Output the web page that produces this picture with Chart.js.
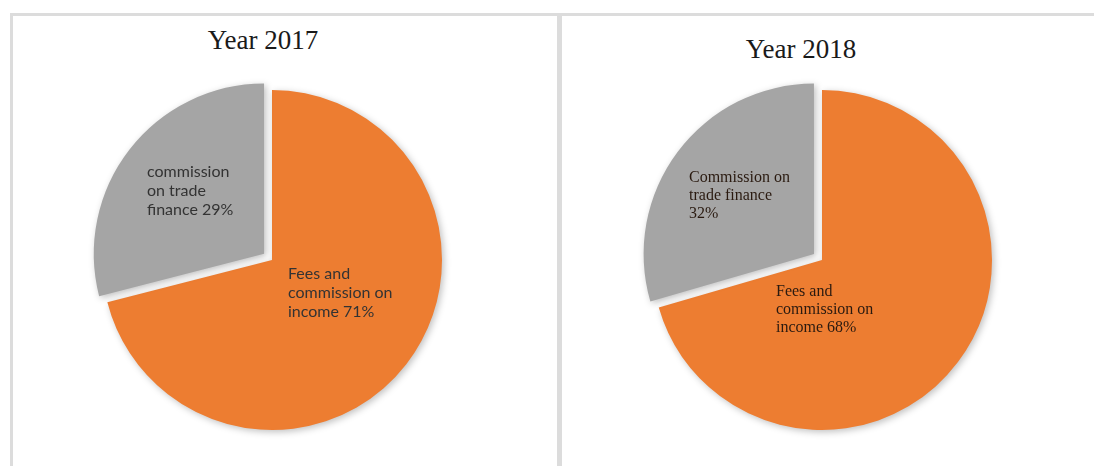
<!DOCTYPE html>
<html>
<head>
<meta charset="utf-8">
<script src="https://cdn.jsdelivr.net/npm/chart.js@4.4.1/dist/chart.umd.min.js"></script>
<style>
  html, body { margin: 0; padding: 0; background: #ffffff; }
  body { width: 1094px; height: 466px; position: relative; overflow: hidden; }
  .border-top { position: absolute; left: 10px; top: 13px; width: 1084px; height: 3px; background: #dcdcdc; }
  .border-left { position: absolute; left: 10px; top: 13px; width: 3px; height: 453px; background: #dcdcdc; }
  .divider { position: absolute; left: 557px; top: 13px; width: 5px; height: 453px; background: #dcdcdc; }
  .title { position: absolute; font-family: "Liberation Serif", "DejaVu Serif", serif; font-size: 27px; line-height: 27px; color: #1a1a1a; white-space: nowrap; transform: translateX(-50%); }
  .wrap { position: absolute; top: 16px; height: 450px; }
</style>
</head>
<body>
<div class="border-top"></div>
<div class="border-left"></div>
<div class="divider"></div>
<div class="title" id="t1" style="left:263px; top:27px;"></div>
<div class="title" id="t2" style="left:801px; top:36px;"></div>
<div class="wrap" style="left:13px; width:544px;"><canvas id="c1" width="544" height="450"></canvas></div>
<div class="wrap" style="left:562px; width:532px;"><canvas id="c2" width="532" height="450"></canvas></div>
<script>
// ---- data ----
const title2017 = "Year 2017";
const title2018 = "Year 2018";
const categories2017 = ["Fees and commission on income", "commission on trade finance"];
const values2017 = [71, 29];
const labelLines2017 = [["Fees and", "commission on", "income 71%"], ["commission", "on trade", "finance 29%"]];
const categories2018 = ["Fees and commission on income", "Commission on trade finance"];
// slice sizes as drawn in the picture (the printed labels read 68% / 32%)
const values2018 = [70.5, 29.5];
const labelLines2018 = [["Fees and", "commission on", "income 68%"], ["Commission on", "trade finance", "32%"]];
const sliceColors = ["#ED7D31", "#A5A5A5"];

document.getElementById('t1').textContent = title2017;
document.getElementById('t2').textContent = title2018;

const shadowPlugin = {
  id: 'pieShadow',
  beforeDatasetDraw(chart) {
    const ctx = chart.ctx;
    ctx.save();
    ctx.shadowColor = 'rgba(0,0,0,0.25)';
    ctx.shadowBlur = 7;
    ctx.shadowOffsetX = 2;
    ctx.shadowOffsetY = 2;
  },
  afterDatasetDraw(chart) {
    chart.ctx.restore();
  }
};

const labelPlugin = {
  id: 'sliceLabels',
  afterDatasetsDraw(chart, args, opts) {
    const ctx = chart.ctx;
    const arc = chart.getDatasetMeta(0).data[0];
    const cx = arc.x, cy = arc.y;
    ctx.save();
    ctx.font = opts.font;
    ctx.fillStyle = opts.color;
    ctx.textAlign = 'left';
    ctx.textBaseline = 'middle';
    opts.lines.forEach((lines, i) => {
      const pos = opts.positions[i];
      lines.forEach((line, j) => {
        ctx.fillText(line, cx + pos[0], cy + pos[1] + j * opts.lineHeight);
      });
    });
    ctx.restore();
  }
};

function makePie(id, labels, values, lines, padRight, labelOpts) {
  return new Chart(document.getElementById(id), {
    type: 'pie',
    data: {
      labels: labels,
      datasets: [{
        data: values,
        backgroundColor: sliceColors,
        borderWidth: 0,
        offset: [0, 40],
        hoverOffset: 0
      }]
    },
    options: {
      responsive: false,
      animation: false,
      radius: 170,
      rotation: 0,
      layout: { padding: { left: 0, right: padRight, top: 40, bottom: 2 } },
      events: [],
      plugins: {
        legend: { display: false },
        title: { display: false },
        tooltip: { enabled: false },
        sliceLabels: Object.assign({ lines: lines }, labelOpts)
      }
    },
    plugins: [shadowPlugin, labelPlugin]
  });
}

makePie('c1', categories2017, values2017, labelLines2017, 26, {
  font: '16px Lato, "Open Sans", sans-serif',
  color: '#333333',
  lineHeight: 19,
  positions: [[16, 14], [-125, -88]]
});
makePie('c2', categories2018, values2018, labelLines2018, 12, {
  font: '16px "Liberation Serif", serif',
  color: '#2a1a10',
  lineHeight: 18,
  positions: [[-46, 32], [-133, -82]]
});
</script>
</body>
</html>
